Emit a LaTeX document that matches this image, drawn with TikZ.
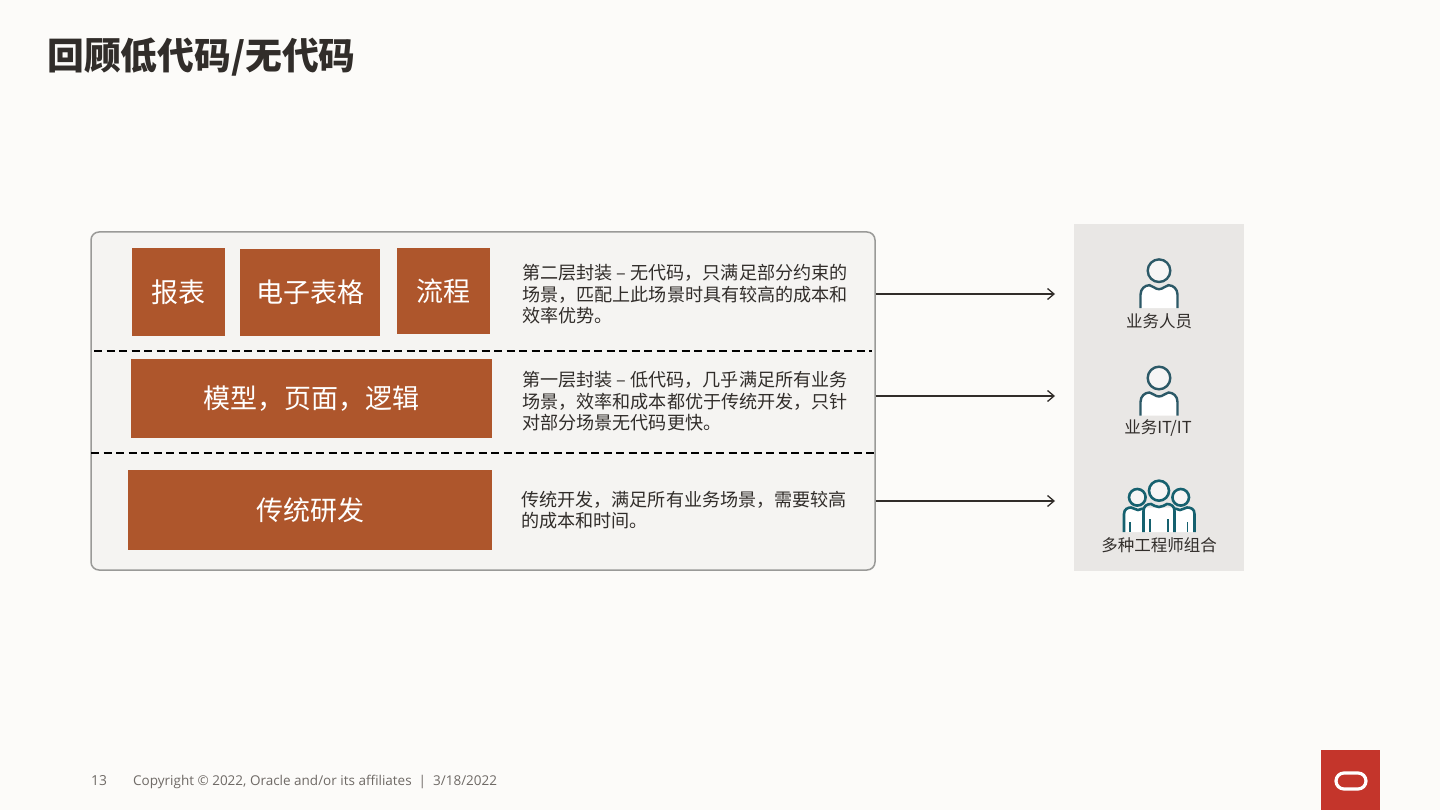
\documentclass[tikz,border=0pt]{standalone}
\usepackage{fontspec}
\setmainfont{Noto Sans CJK SC}
\newfontfamily\footfont{Open Sans}
\usetikzlibrary{arrows.meta}
\definecolor{pagebg}{HTML}{FCFBF9}
\definecolor{panelbg}{HTML}{F5F4F2}
\definecolor{panelline}{HTML}{9A9A98}
\definecolor{sidebg}{HTML}{E9E7E5}
\definecolor{rust}{HTML}{AE562C}
\definecolor{inktext}{HTML}{312D2A}
\definecolor{foot}{HTML}{6F6A66}
\definecolor{teal}{HTML}{2C5967}
\definecolor{tealdark}{HTML}{16616F}
\definecolor{oracle}{HTML}{C4352B}
\tikzset{
  x=1pt,y=-1pt,
  rustbox/.style={fill=rust,text=white,inner sep=0pt,font=\fontsize{27}{32}\selectfont},
  para/.style={anchor=west,align=left,inner sep=0pt,text=inktext,font=\fontsize{18.1}{21.5}\selectfont},
  caption/.style={inner sep=0pt,text=inktext,font=\fontsize{16.5}{20}\selectfont},
  divider/.style={black,line width=1.8pt,dash pattern=on 8pt off 4.5pt},
  flow/.style={inktext,line width=1.3pt,-{Straight Barb[length=6.5pt,width=11pt,line width=1.3pt]}},
}
\newcommand{\bodypath}{(-18.5,37.5) -- (-18.5,24) .. controls (-18.5,18) and (-14,14.5) .. (-9.5,14.5) .. controls (-6,15) and (-4,18.5) .. (0,18.5) .. controls (4,18.5) and (6,15) .. (9.5,14.5) .. controls (14,14.5) and (18.5,18) .. (18.5,24) -- (18.5,37.5)}
\newcommand{\personicon}[2]{%
  \begin{scope}[shift={(#1,#2)}]
    \fill[white] \bodypath -- cycle;
    \draw[teal,line width=2.4pt,fill=sidebg!40!white] (0,0) circle[radius=11.3];
    \draw[teal,line width=2.4pt] \bodypath;
  \end{scope}}
\begin{document}
\begin{tikzpicture}
\useasboundingbox (0,0) rectangle (1440,810);
\fill[pagebg] (0,0) rectangle (1440,810);

\node[anchor=west,inner sep=0pt,text=inktext,font=\fontsize{36.8}{40}\bfseries\selectfont] (title) at (47,57) {回顾低代码/无代码};

% main panel
\node[draw=panelline,line width=1.5pt,fill=panelbg,rounded corners=8pt,minimum width=784pt,minimum height=338pt,inner sep=0pt] (panel) at (483,401) {};
\draw[divider] (94,351) coordinate (d1a) -- (872,351) coordinate (d1b);
\draw[divider] (91,453) coordinate (d2a) -- (875,453) coordinate (d2b);

% boxes
\node[rustbox,minimum width=93pt,minimum height=88pt] (report) at (178.5,292) {\raisebox{-0.7pt}{报表}};
\node[rustbox,minimum width=140pt,minimum height=87pt] (sheet) at (310,292.5) {\raisebox{-0.7pt}{电子表格}};
\node[rustbox,minimum width=93pt,minimum height=86pt] (process) at (443.5,291) {\raisebox{-0.7pt}{流程}};
\node[rustbox,minimum width=361pt,minimum height=79pt] (model) at (311.5,398.5) {\raisebox{-0.7pt}{模型，页面，逻辑}};
\node[rustbox,minimum width=364pt,minimum height=80pt] (trad) at (310,510) {传统研发};

% descriptions
\node[para] (p1) at (522,294.2) {第二层封装 – 无代码，只满足部分约束的\\场景，匹配上此场景时具有较高的成本和\\效率优势。};
\node[para] (p2) at (522,401.2) {第一层封装 – 低代码，几乎满足所有业务\\场景，效率和成本都优于传统开发，只针\\对部分场景无代码更快。};
\node[para] (p3) at (521,510.3) {传统开发，满足所有业务场景，需要较高\\的成本和时间。};

% side panel
\node[fill=sidebg,minimum width=170pt,minimum height=347pt,inner sep=0pt] (side) at (1159,397.5) {};

% connectors
\coordinate (a1) at (1055,294);
\coordinate (a2) at (1055,396);
\coordinate (a3) at (1055,501);
\draw[flow] (panel.east |- a1) -- (a1);
\draw[flow] (panel.east |- a2) -- (a2);
\draw[flow] (panel.east |- a3) -- (a3);

% people
\personicon{1159}{270.7}
\personicon{1159}{378}
\node[caption] (c1) at (1159,321.5) {业务人员};
\node[caption] (c2) at (1158,428.5) {业务IT/IT};

% engineers group
\begin{scope}[tealdark,line width=2.6pt]
  \fill[white] (1124,532) -- (1124,514) .. controls (1124,509) and (1128,507.5) .. (1131,507.5) -- (1187,507.5) .. controls (1191,507.5) and (1194.5,509) .. (1194.5,514) -- (1194.5,532) -- cycle;
  \draw (1124,532) -- (1124,514) .. controls (1124,509) and (1128,507.5) .. (1131,507.5) .. controls (1134,508) and (1136,510) .. (1138,510) .. controls (1140,510) and (1141,509) .. (1143,508.5);
  \draw (1194.5,532) -- (1194.5,514) .. controls (1194.5,509) and (1191,507.5) .. (1187,507.5) .. controls (1184,508) and (1182,510) .. (1180,510) .. controls (1178,510) and (1177,509) .. (1175,508.5);
  \draw (1143.5,532) -- (1143.5,511) .. controls (1143.5,506) and (1147,504) .. (1151,504) .. controls (1153,505) and (1156,507) .. (1159,507) .. controls (1162,507) and (1165,505) .. (1167,504) .. controls (1171,504) and (1174.5,506) .. (1174.5,511) -- (1174.5,532);
  \draw[line width=1.8pt] (1130,522) -- (1130,532) (1150,519) -- (1150,532) (1168,519) -- (1168,532) (1187.5,522) -- (1187.5,532);
  \draw[fill=sidebg!40!white] (1137.3,497.3) circle[radius=8.3];
  \draw[fill=sidebg!40!white] (1180.7,497.3) circle[radius=8.3];
  \draw[fill=sidebg!40!white] (1159,490.7) circle[radius=10];
\end{scope}
\node[caption] (c3) at (1159,545.3) {多种工程师组合};

% footer
\node[anchor=west,inner sep=0pt,text=foot,font=\footfont\fontsize{13.8}{16}\selectfont] (pg) at (91,781) {13};
\node[anchor=west,inner sep=0pt,text=foot,font=\footfont\fontsize{13.5}{16}\selectfont] (copy) at (133,781.5) {Copyright © 2022, Oracle and/or its affiliates \ | \ 3/18/2022};

% logo
\node[fill=oracle,minimum width=59pt,minimum height=60pt,inner sep=0pt] (logo) at (1350.5,780) {};
\node[draw=white,line width=3.2pt,rounded corners=8pt,minimum width=30pt,minimum height=16pt,inner sep=0pt] (pill) at (1351,781) {};
\end{tikzpicture}
\end{document}
